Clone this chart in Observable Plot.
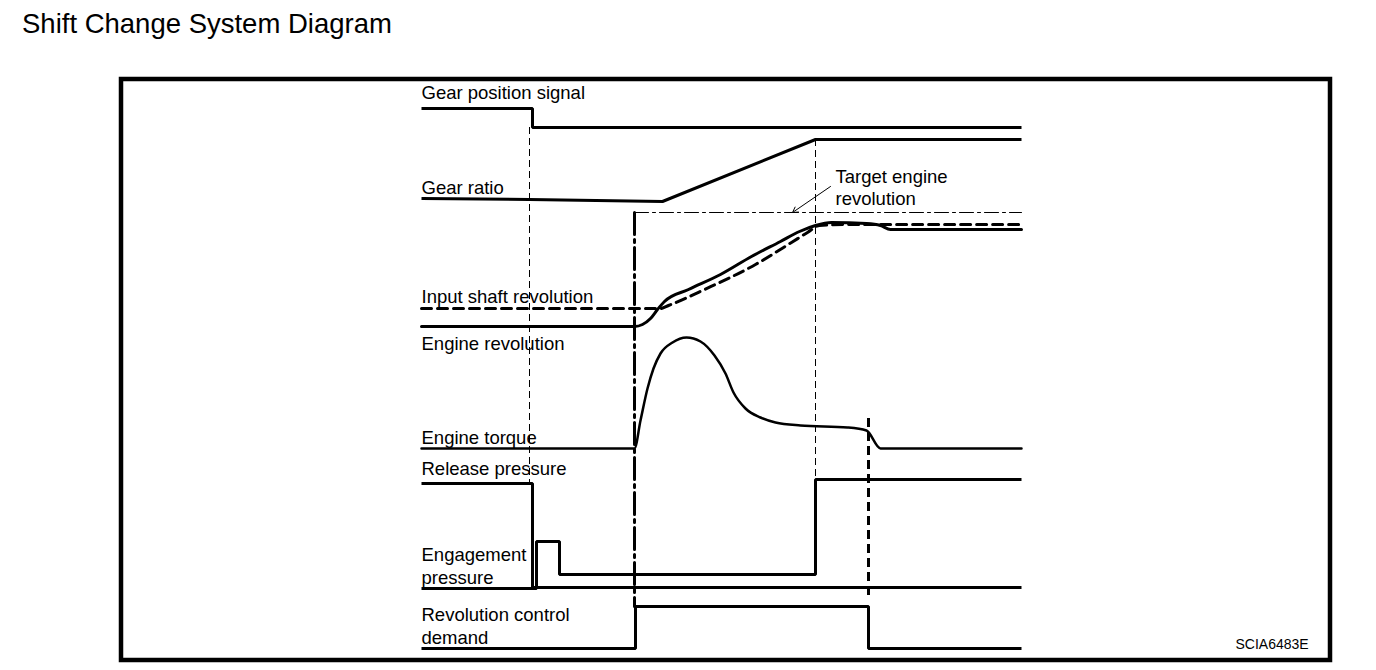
<!DOCTYPE html>
<html>
<head>
<meta charset="utf-8">
<script src="https://cdn.jsdelivr.net/npm/d3@7"></script>
<script src="https://cdn.jsdelivr.net/npm/@observablehq/plot@0.6"></script>
<style>
  html, body { margin: 0; padding: 0; background: #fff; }
  #wrap { width: 1376px; height: 670px; position: relative; overflow: hidden; }
  #title { position: absolute; left: 22px; top: 10px; font-family: "Liberation Sans", Arial, sans-serif; font-size: 27.5px; line-height: 27.5px; color: #000; white-space: nowrap; }
  #chart { position: absolute; left: 0; top: 50px; }
</style>
</head>
<body>
<div id="wrap">
  <div id="title">Shift Change System Diagram</div>
  <div id="chart"></div>
</div>
<script>
// ---- Data (time on x, signal level on y, in diagram units) ----
const frameBox = [{x1: 121, x2: 1330, y1: 79, y2: 660}];

const gearPosition = [[421,108],[532,108],[532,127],[1021,127]];
const gearRatio = [[421,198],[529,199],[662,201],[815,139],[1021,139]];
const targetRevolution = [[634,212],[1021,212]];
const targetStart = [[634,212],[634,606]];
const inputShaftRevolution = [[421,308],[660,308],[668,305],[704,289],[755,264],[791,242],[807,232],[819,225],[850,224],[1021,224]];
const engineRevolution = [[421,326],[634,326],[642,324],[650,318],[657,309],[664,301],[688,289],[720,274],[751,256],[780,241],[799,231],[815,225],[831,222],[866,223],[880,225],[890,229],[1021,229]];
const engineTorque = [[421,448],[634,448],[640,420],[647,388],[653,368],[660,353],[672,342],[686,337],[700,341],[714,355],[725,373],[733,392],[745,408],[760,417],[775,422],[800,425],[847,427],[866,430],[880,448],[1021,448]];
const releasePressure = [[421,483],[532,483],[532,587],[1021,587]];
const engagementPressure = [[421,588],[536,588],[536,541],[559,541],[559,574],[815,574],[815,479],[1021,479]];
const revolutionControlDemand = [[421,648],[635,648],[635,606],[868,606],[868,648],[1021,648]];

const thinGuides = [{x: 529, y1: 127, y2: 483}, {x: 815, y1: 139, y2: 479}];
const thickGuides = [{x: 868, y1: 418, y2: 600}];
const targetArrow = [{x1: 830, y1: 186, x2: 792, y2: 212}];

const labels = [
  {text: "Gear position signal", x: 421, y: 98},
  {text: "Gear ratio", x: 421, y: 193},
  {text: "Target engine", x: 835, y: 182},
  {text: "revolution", x: 835, y: 204},
  {text: "Input shaft revolution", x: 421, y: 302},
  {text: "Engine revolution", x: 421, y: 349},
  {text: "Engine torque", x: 421, y: 443},
  {text: "Release pressure", x: 421, y: 474},
  {text: "Engagement", x: 421, y: 560},
  {text: "pressure", x: 421, y: 583},
  {text: "Revolution control", x: 421, y: 620},
  {text: "demand", x: 421, y: 643}
];
const codeLabel = [{text: "SCIA6483E", x: 1235, y: 648}];

// ---- Chart ----
const px = d => d[0], py = d => d[1];
const solid = {x: px, y: py, stroke: "#000", strokeWidth: 3, strokeLinejoin: "miter", strokeLinecap: "butt"};

const chart = Plot.plot({
  width: 1376,
  height: 620,
  margin: 0,
  x: {domain: [0, 1376], range: [0, 1376], axis: null},
  y: {domain: [50, 670], range: [0, 620], axis: null},
  style: {background: "#fff", fontFamily: "'Liberation Sans', Arial, sans-serif"},
  marks: [
    Plot.rect(frameBox, {x1: "x1", x2: "x2", y1: "y1", y2: "y2", fill: "none", stroke: "#000", strokeWidth: 4.5}),
    Plot.ruleX(thinGuides, {x: "x", y1: "y1", y2: "y2", stroke: "#000", strokeWidth: 1, strokeDasharray: "7,4"}),
    Plot.ruleX(thickGuides, {x: "x", y1: "y1", y2: "y2", stroke: "#000", strokeWidth: 3, strokeDasharray: "9,5"}),
    Plot.line(targetRevolution, {x: px, y: py, stroke: "#000", strokeWidth: 1, strokeDasharray: "14,4,3,4"}),
    Plot.line(targetStart, {x: px, y: py, stroke: "#000", strokeWidth: 3, strokeDasharray: "22,5,3,5"}),
    Plot.line(gearPosition, solid),
    Plot.line(gearRatio, solid),
    Plot.line(inputShaftRevolution, {x: px, y: py, stroke: "#000", strokeWidth: 3, strokeDasharray: "10,6", curve: "monotone-x"}),
    Plot.line(engineRevolution, {x: px, y: py, stroke: "#000", strokeWidth: 3, curve: "monotone-x"}),
    Plot.line(engineTorque, {x: px, y: py, stroke: "#000", strokeWidth: 2.5, curve: "monotone-x"}),
    Plot.line(releasePressure, solid),
    Plot.line(engagementPressure, solid),
    Plot.line(revolutionControlDemand, solid),
    Plot.arrow(targetArrow, {x1: "x1", y1: "y1", x2: "x2", y2: "y2", stroke: "#000", strokeWidth: 1, headLength: 9}),
    Plot.text(labels, {x: "x", y: "y", text: "text", textAnchor: "start", lineAnchor: "bottom", fontSize: 18.5, fill: "#000"}),
    Plot.text(codeLabel, {x: "x", y: "y", text: "text", textAnchor: "start", lineAnchor: "bottom", fontSize: 14, fill: "#000"})
  ]
});
document.getElementById("chart").appendChild(chart);
</script>
</body>
</html>
